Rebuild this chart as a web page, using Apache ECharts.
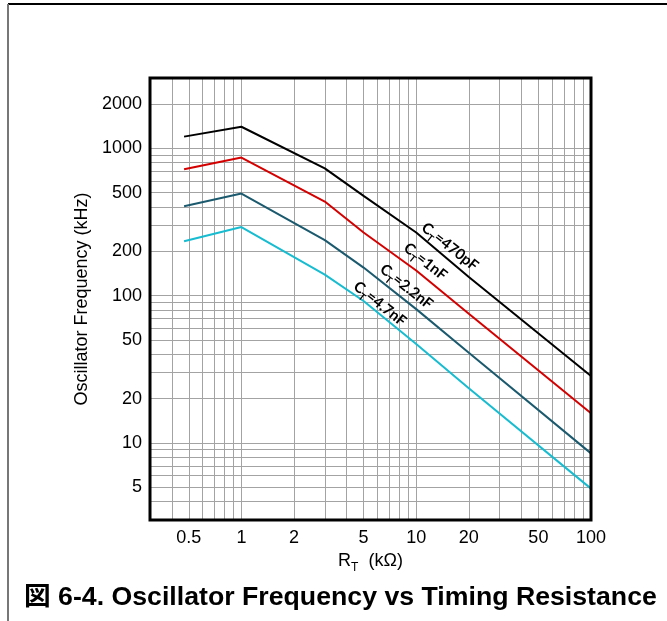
<!DOCTYPE html>
<html>
<head>
<meta charset="utf-8">
<script src="https://cdn.jsdelivr.net/npm/echarts@6/dist/echarts.min.js"></script>
<style>
html,body{margin:0;padding:0;background:#fff;}
#chart{width:667px;height:621px;}
</style>
</head>
<body>
<div id="chart"></div>
<script>
// ---- data ----
const rt = [0.47, 1, 3, 5, 10, 20, 100];
const f470p = [1200, 1400, 730, 475, 268, 134, 28.5];
const f1n   = [720, 865, 435, 268, 148, 75.4, 15.9];
const f2n2  = [404, 493, 238, 155, 81, 40.9, 8.5];
const f4n7  = [234, 292, 139, 92, 46.9, 23.5, 4.9];
const seriesNames = ['470pF', '1nF', '2.2nF', '4.7nF'];
const seriesColors = ['#000000', '#d40000', '#1b5a6e', '#17bcd0'];

const xTickLabels = [0.5, 1, 2, 5, 10, 20, 50, 100];
const yTickLabels = [5, 10, 20, 50, 100, 200, 500, 1000, 2000];
const xGrid = [0.4, 0.5, 0.6, 0.7, 0.8, 0.9, 1, 2, 3, 4, 5, 6, 7, 8, 9, 10, 20, 30, 40, 50, 60, 70, 80, 90, 100];
const yGrid = [4, 5, 6, 7, 8, 9, 10, 20, 30, 40, 50, 60, 70, 80, 90, 100, 200, 300, 400, 500, 600, 700, 800, 900, 1000, 2000];

const labelX = [15.6, 11.3, 8.8, 6.2];
const labelY = [215, 170, 115, 88];
const labelText = ['=470pF', '=1nF', '=2.2nF', '=4.7nF'];

const allData = [f470p, f1n, f2n2, f4n7];
const font = '"Liberation Sans", Arial, Helvetica, sans-serif';
const lblFont = 'Lato, "Open Sans", sans-serif';

const chart = echarts.init(document.getElementById('chart'), null, {renderer: 'canvas'});

const series = allData.map((vals, i) => ({
  name: seriesNames[i],
  type: 'line',
  data: rt.map((x, j) => [x, vals[j]]),
  showSymbol: false,
  symbol: 'none',
  lineStyle: {color: seriesColors[i], width: 2},
  itemStyle: {color: seriesColors[i]},
  silent: true,
  z: 3
}));

series.push({
  type: 'scatter',
  symbolSize: 0,
  silent: true,
  z: 5,
  itemStyle: {color: '#000', opacity: 1},
  data: labelX.map((x, i) => ({value: [x, labelY[i]], name: labelText[i]})),
  label: {
    show: true,
    position: 'inside',
    rotate: -38.5,
    color: '#000',
    opacity: 1,
    textBorderWidth: 0,
    textBorderColor: 'transparent',
    formatter: p => '{a|C}{b|T}{a|' + p.name + '}',
    rich: {
      a: {fontFamily: lblFont, fontWeight: 'bold', fontSize: 15, color: '#000', textBorderWidth: 0, lineHeight: 18},
      b: {fontFamily: lblFont, fontWeight: 'bold', fontSize: 10, color: '#000', textBorderWidth: 0, padding: [12, 0, 0, 0]}
    }
  }
});

chart.setOption({
  animation: false,
  backgroundColor: '#fff',
  grid: {left: 150, right: 76, top: 78, bottom: 101, show: true, borderColor: '#000', borderWidth: 3, backgroundColor: 'transparent', z: 10},
  xAxis: {
    type: 'log',
    logBase: 10,
    min: 0.3,
    max: 100,
    axisLine: {show: false},
    axisTick: {show: false, customValues: xGrid},
    splitLine: {show: true, lineStyle: {color: '#a3a3a3', width: 1}},
    axisLabel: {customValues: xTickLabels, color: '#000', fontFamily: font, fontSize: 18, margin: 9,
      formatter: v => String(v)},
    name: '{a|R}{b|T}{a|  (kΩ)}',
    nameLocation: 'middle',
    nameGap: 24,
    nameTextStyle: {
      rich: {
        a: {fontFamily: font, fontSize: 18, color: '#000', lineHeight: 21},
        b: {fontFamily: font, fontSize: 12, color: '#000', padding: [14, 0, 0, 0]}
      }
    }
  },
  yAxis: {
    type: 'log',
    logBase: 10,
    min: 3,
    max: 3000,
    axisLine: {show: false},
    axisTick: {show: false, customValues: yGrid},
    splitLine: {show: true, lineStyle: {color: '#a3a3a3', width: 1}},
    axisLabel: {customValues: yTickLabels, color: '#000', fontFamily: font, fontSize: 18, margin: 8,
      formatter: v => String(v)},
    name: 'Oscillator Frequency (kHz)',
    nameLocation: 'middle',
    nameGap: 51,
    nameTextStyle: {fontFamily: font, fontSize: 18, color: '#000'}
  },
  graphic: [
    {type: 'line', shape: {x1: 8, y1: 4, x2: 667, y2: 4}, style: {stroke: '#000', lineWidth: 2}, silent: true},
    {type: 'line', shape: {x1: 8, y1: 4, x2: 8, y2: 621}, style: {stroke: '#777', lineWidth: 2}, silent: true},
    {type: 'text', left: 24, top: 584, style: {text: '図 6-4. Oscillator Frequency vs Timing Resistance', fontFamily: '"Liberation Sans", Arial, "Noto Sans CJK JP", sans-serif', fontWeight: 'bold', fontSize: 26.7, fill: '#000'}, silent: true}
  ],
  series: series
});
</script>
</body>
</html>
